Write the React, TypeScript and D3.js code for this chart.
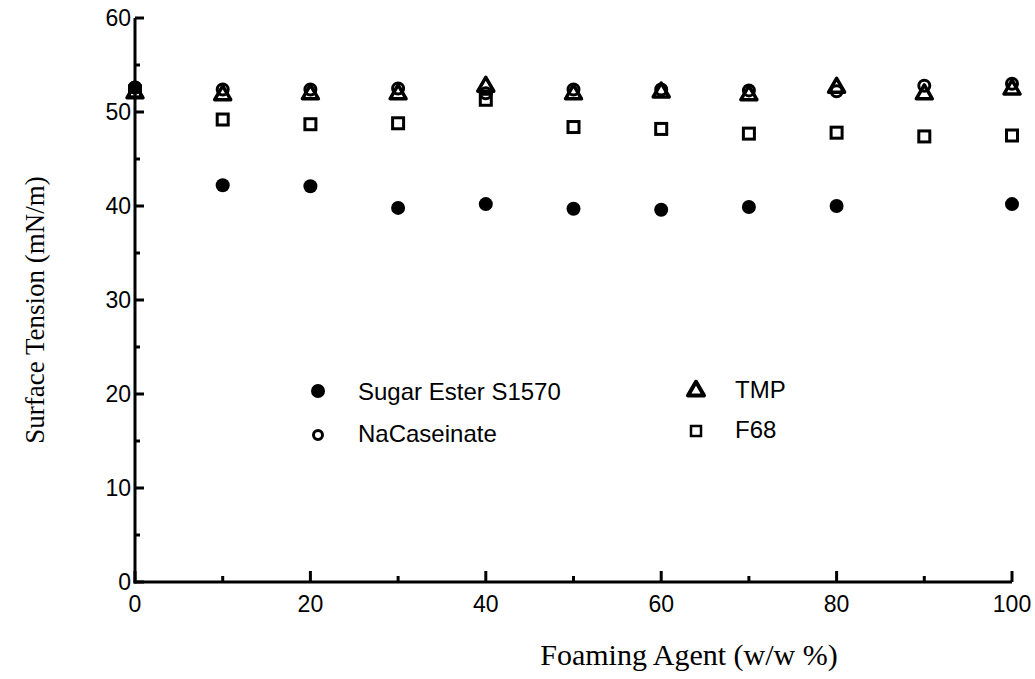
import React from "react";
import * as d3 from "d3";

// foaming agent concentration (w/w %)
const conc = [0, 10, 20, 30, 40, 50, 60, 70, 80, 90, 100];

// surface tension (mN/m); null = no point drawn
const sugarEster = [52.6, 42.2, 42.1, 39.8, 40.2, 39.7, 39.6, 39.9, 40.0, null, 40.2];
const naCaseinate = [52.6, 52.4, 52.4, 52.5, 52.0, 52.4, 52.4, 52.3, 52.2, 52.8, 53.0];
const tmp = [52.0, 51.8, 51.9, 51.9, 52.7, 51.9, 52.1, 51.8, 52.6, 51.9, 52.4];
const f68 = [52.2, 49.2, 48.7, 48.8, 51.3, 48.4, 48.2, 47.7, 47.8, 47.4, 47.5];

const xTicks = [0, 20, 40, 60, 80, 100];
const xMinor = [10, 30, 50, 70, 90];
const yTicks = [0, 10, 20, 30, 40, 50, 60];
const yMinor = [5, 15, 25, 35, 45, 55];

const W = 1035;
const H = 679;

const sans = "'Liberation Sans', Arial, sans-serif";
const serif = "'Liberation Serif', 'Times New Roman', serif";

const triPath = (cx: number, cy: number, s: number) => {
  const h = (s * Math.sqrt(3)) / 2;
  return `M${cx},${cy - (2 * h) / 3}L${cx + s / 2},${cy + h / 3}L${cx - s / 2},${cy + h / 3}Z`;
};

export default function App() {
  const x = d3.scaleLinear().domain([0, 100]).range([135, 1012]);
  const y = d3.scaleLinear().domain([0, 60]).range([582, 18]);

  const pts = (vals: (number | null)[]) =>
    conc
      .map((c, i) => ({ c, v: vals[i] }))
      .filter((d) => d.v !== null) as { c: number; v: number }[];

  const axisColor = "#000";

  return (
    <svg
      width={W}
      height={H}
      style={{ position: "absolute", left: 0, top: 0, background: "#fff" }}
    >
      {/* axes */}
      <line x1={x(0)} x2={x(0)} y1={y(0) + 1.5} y2={y(60)} stroke={axisColor} strokeWidth={3} />
      <line x1={x(0) - 1.5} x2={x(100)} y1={y(0)} y2={y(0)} stroke={axisColor} strokeWidth={3} />

      {yTicks.map((t) => (
        <g key={"yt" + t}>
          <line x1={x(0)} x2={x(0) + 9} y1={y(t)} y2={y(t)} stroke={axisColor} strokeWidth={3} />
          <text
            x={x(0) - 4}
            y={y(t)}
            dy="0.36em"
            textAnchor="end"
            fontFamily={sans}
            fontSize={23}
          >
            {t}
          </text>
        </g>
      ))}
      {yMinor.map((t) => (
        <line key={"ym" + t} x1={x(0)} x2={x(0) + 5} y1={y(t)} y2={y(t)} stroke={axisColor} strokeWidth={3} />
      ))}

      {xTicks.map((t) => (
        <g key={"xt" + t}>
          <line x1={x(t)} x2={x(t)} y1={y(0)} y2={y(0) - 11} stroke={axisColor} strokeWidth={3} />
          <text x={x(t)} y={612} textAnchor="middle" fontFamily={sans} fontSize={23}>
            {t}
          </text>
        </g>
      ))}
      {xMinor.map((t) => (
        <line key={"xm" + t} x1={x(t)} x2={x(t)} y1={y(0)} y2={y(0) - 6} stroke={axisColor} strokeWidth={3} />
      ))}

      {/* axis titles */}
      <text x={689} y={665} textAnchor="middle" fontFamily={serif} fontSize={30}>
        Foaming Agent (w/w %)
      </text>
      <text
        transform={`translate(44,310) rotate(-90)`}
        textAnchor="middle"
        fontFamily={serif}
        fontSize={27}
      >
        Surface Tension (mN/m)
      </text>

      {/* data */}
      {pts(f68).map((d) => (
        <rect
          key={"f" + d.c}
          x={x(d.c) - 5.5}
          y={y(d.v) - 5.5}
          width={11}
          height={11}
          fill="none"
          stroke="#000"
          strokeWidth={3}
        />
      ))}
      {pts(tmp).map((d) => (
        <path key={"t" + d.c} d={triPath(x(d.c), y(d.v), 16)} fill="none" stroke="#000" strokeWidth={3.5} strokeLinejoin="round" />
      ))}
      {pts(naCaseinate).map((d) => (
        <circle key={"n" + d.c} cx={x(d.c)} cy={y(d.v)} r={5.5} fill="none" stroke="#000" strokeWidth={3} />
      ))}
      {pts(sugarEster).map((d) => (
        <circle key={"s" + d.c} cx={x(d.c)} cy={y(d.v)} r={7} fill="#000" />
      ))}

      {/* legend */}
      <circle cx={318} cy={391} r={7} fill="#000" />
      <text x={358} y={400} fontFamily={sans} fontSize={24}>
        Sugar Ester S1570
      </text>
      <circle cx={318} cy={435} r={4.5} fill="none" stroke="#000" strokeWidth={3} />
      <text x={358} y={442} fontFamily={sans} fontSize={24}>
        NaCaseinate
      </text>
      <path d={triPath(696, 391, 16)} fill="none" stroke="#000" strokeWidth={4} strokeLinejoin="round" />
      <text x={735} y={398} fontFamily={sans} fontSize={24}>
        TMP
      </text>
      <rect x={691} y={426} width={10} height={10} fill="none" stroke="#000" strokeWidth={2.5} />
      <text x={735} y={438} fontFamily={sans} fontSize={24}>
        F68
      </text>
    </svg>
  );
}
